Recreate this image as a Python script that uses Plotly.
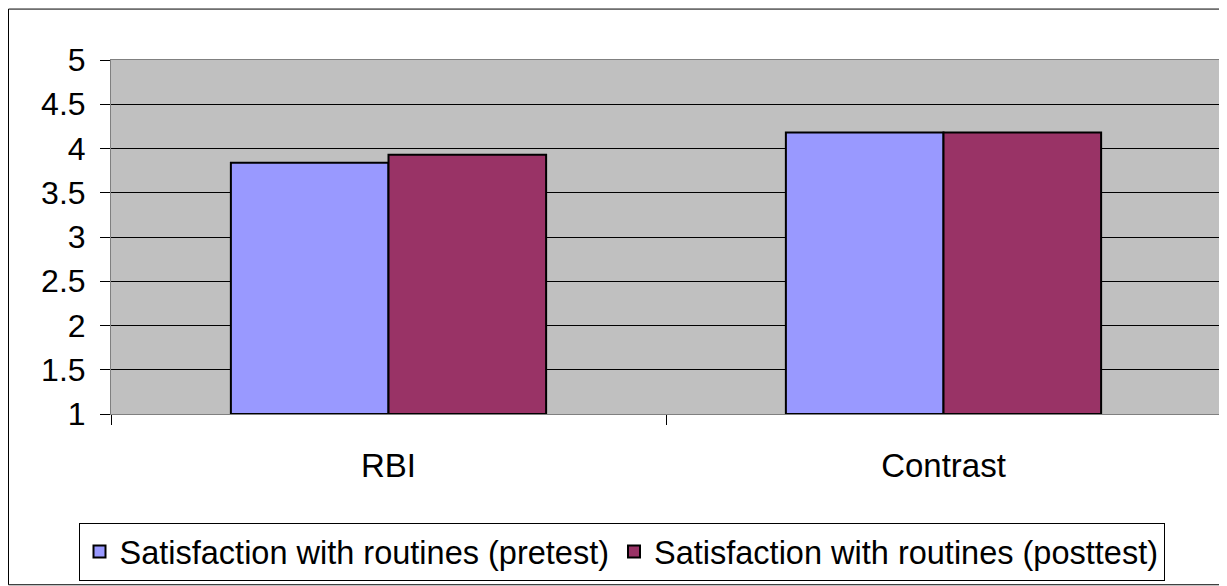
import plotly.graph_objects as go

categories = ["RBI", "Contrast"]
pretest = [3.84, 4.18]
posttest = [3.93, 4.18]
series_names = ["Satisfaction with routines (pretest)", "Satisfaction with routines (posttest)"]
y_ticks = [1, 1.5, 2, 2.5, 3, 3.5, 4, 4.5, 5]
y_tick_labels = ["1", "1.5", "2", "2.5", "3", "3.5", "4", "4.5", "5"]

FONT = "Liberation Sans, Arial, sans-serif"

fig = go.Figure()
fig.add_trace(go.Bar(x=categories, y=[v - 1 for v in pretest], base=1, name=series_names[0],
                     marker=dict(color="#9999FF", line=dict(color="#000000", width=2))))
fig.add_trace(go.Bar(x=categories, y=[v - 1 for v in posttest], base=1, name=series_names[1],
                     marker=dict(color="#993366", line=dict(color="#000000", width=2))))

# page body has an 8px margin; work in page coordinates and shift by OFF
OFF = 8
W, H = 1227 - OFF, 586 - OFF
PL, PR, PT, PB = 111, 1221, 59.5, 414   # plot area in page coordinates
ml, mt = PL - OFF, PT - OFF
mr = W - (PR - OFF)
mb = H - (PB - OFF)
pw = PR - PL
ph = PB - PT

def px_x(x):
    return (x - PL) / pw

def px_y(y):
    return (PB - y) / ph

fig.update_layout(
    width=W, height=H,
    margin=dict(l=ml, r=mr, t=mt, b=mb, pad=0, autoexpand=False),
    paper_bgcolor="#FFFFFF",
    plot_bgcolor="#C0C0C0",
    barmode="group",
    bargap=0.432,
    bargroupgap=0,
    font=dict(family=FONT, size=32, color="#000000"),
    showlegend=True,
    legend=dict(
        orientation="h",
        x=px_x(621.5), xanchor="center",
        y=px_y(523), yanchor="top",
        bordercolor="#000000", borderwidth=1,
        bgcolor="#FFFFFF",
        font=dict(family=FONT, size=32.5, color="#000000"),
        itemsizing="constant",
        itemwidth=30,
        tracegroupgap=0,
    ),
    xaxis=dict(
        type="category",
        showgrid=False,
        ticks="outside", ticklen=10, tickcolor="#000000", tickwidth=1,
        tickson="boundaries",
        showline=True, linecolor="#808080", linewidth=1, mirror=True,
        tickfont=dict(family=FONT, size=33),
        ticklabelstandoff=22,
        automargin=False,
    ),
    yaxis=dict(
        range=[1, 5],
        tickvals=y_ticks, ticktext=y_tick_labels,
        showgrid=True, gridcolor="#000000", gridwidth=1,
        ticks="outside", ticklen=10, tickcolor="#000000", tickwidth=1,
        showline=True, linecolor="#808080", linewidth=1, mirror=True,
        tickfont=dict(family=FONT, size=32),
        ticklabelstandoff=8,
        zeroline=False,
        automargin=False,
    ),
)

fig.add_shape(type="rect", xref="paper", yref="paper",
              x0=px_x(8.5), x1=px_x(1226),
              y0=px_y(585), y1=px_y(8.5),
              line=dict(color="#000000", width=1), fillcolor="rgba(0,0,0,0)", layer="below")

fig.write_html("out.html")
